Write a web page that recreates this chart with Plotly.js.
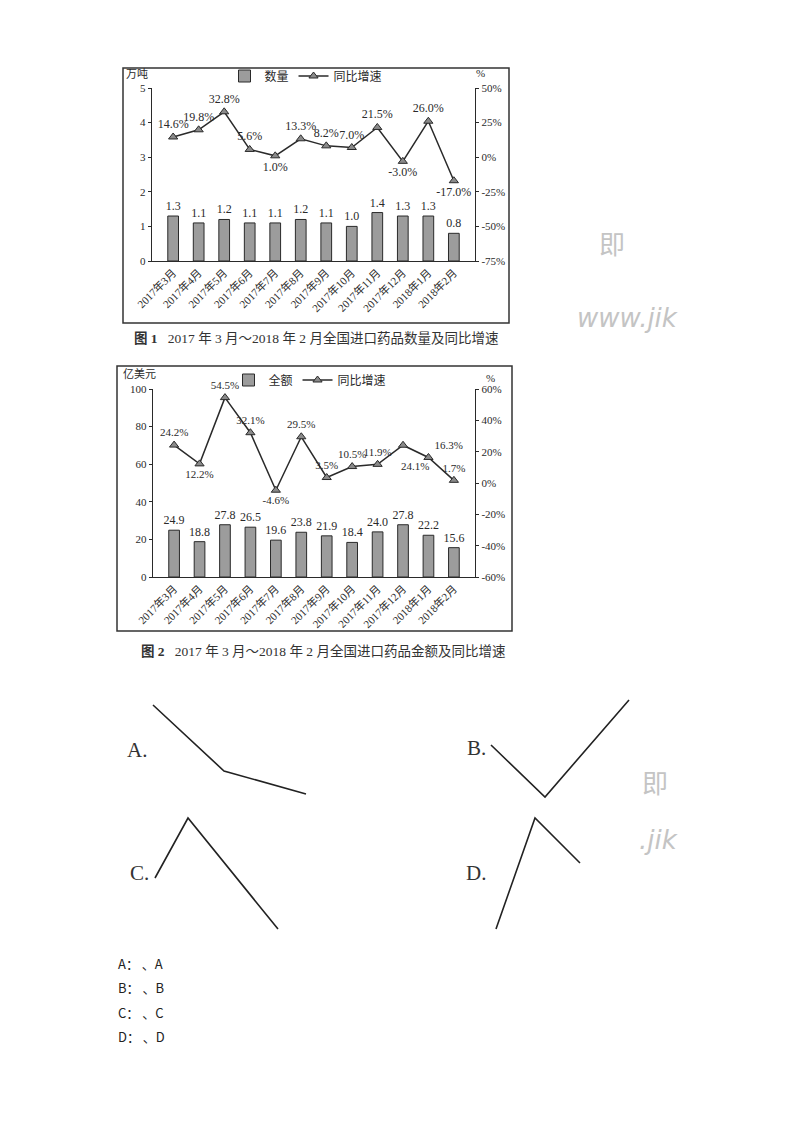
<!DOCTYPE html>
<html>
<head>
<meta charset="utf-8">
<script src="https://cdn.plot.ly/plotly-3.0.1.min.js"></script>
<style>html,body{margin:0;padding:0;background:#fff;}#chart{width:800px;height:1132px;}</style>
</head>
<body>
<div id="chart"></div>
<script>
// ---- data ----
var months = ['2017年3月','2017年4月','2017年5月','2017年6月','2017年7月','2017年8月','2017年9月','2017年10月','2017年11月','2017年12月','2018年1月','2018年2月'];
var qty = [1.3, 1.1, 1.2, 1.1, 1.1, 1.2, 1.1, 1.0, 1.4, 1.3, 1.3, 0.8];
var qtyGrowth = [14.6, 19.8, 32.8, 5.6, 1.0, 13.3, 8.2, 7.0, 21.5, -3.0, 26.0, -17.0];
var amount = [24.9, 18.8, 27.8, 26.5, 19.6, 23.8, 21.9, 18.4, 24.0, 27.8, 22.2, 15.6];
var amountGrowth = [24.2, 12.2, 54.5, 32.1, -4.6, 29.5, 3.5, 10.5, 11.9, 24.1, 16.3, 1.7];
var qtyTicks = [0, 1, 2, 3, 4, 5];
var qtyGrowthTicks = [-75, -50, -25, 0, 25, 50];
var amtTicks = [0, 20, 40, 60, 80, 100];
var amtGrowthTicks = [-60, -40, -20, 0, 20, 40, 60];
// answer option sketches (schematic polylines)
var optA_x = [153, 224, 306], optA_y = [705, 771, 794];
var optB_x = [491, 545, 629], optB_y = [745, 797, 700];
var optC_x = [155, 188, 278], optC_y = [878, 818, 929];
var optD_x = [496, 535, 580], optD_y = [929, 818, 863];
var optLabels = ['A.', 'B.', 'C.', 'D.'];
var answerLines = ['A： 、A', 'B： 、B', 'C： 、C', 'D： 、D'];

// ---- helpers ----
var W = 800, H = 1132;
function px(x){ return x / W; }
function py(y){ return 1 - y / H; }
var SERIF = 'Liberation Serif, "Noto Sans CJK SC", serif';
var INK = '#2a2a2a';
var BARFILL = '#9c9c9c';

var qtyPos = ['top center','top center','top center','top center','bottom center','top center','top center','top center','top center','bottom center','top center','bottom center'];
var amtPos = ['top center','bottom center','top center','top center','bottom center','top center','top center','top center','top center','bottom center','top right','top center'];
var AMT_OFFSET_IDX = 9; // label drawn lower-right of its point (as in the source)

function pct(arr){ return arr.map(function(v){ return v.toFixed(1) + '%'; }); }
function pctLabels(arr){ return arr.map(function(v){ return v + '%'; }); }
var amtText = pct(amountGrowth).map(function(t, i){ return i === AMT_OFFSET_IDX ? '' : t; });

var traces = [
  {type:'bar', x: months, y: qty, xaxis:'x', yaxis:'y', name:'数量', legend:'legend',
   marker:{color:BARFILL, line:{color:INK, width:1}},
   text: qty.map(function(v){return v.toFixed(1);}), textposition:'outside', cliponaxis:false, constraintext:'none',
   textfont:{family:SERIF, size:12, color:INK}},
  {type:'scatter', mode:'lines+markers+text', x: months, y: qtyGrowth, xaxis:'x', yaxis:'y2', name:'同比增速', legend:'legend',
   line:{color:INK, width:1.5}, marker:{symbol:'triangle-up', size:8, color:'#8a8a8a', line:{color:INK, width:1}},
   text: pct(qtyGrowth), textposition: qtyPos, cliponaxis:false,
   textfont:{family:SERIF, size:12, color:INK}},
  {type:'bar', x: months, y: amount, xaxis:'x2', yaxis:'y3', name:'全额', legend:'legend2',
   marker:{color:BARFILL, line:{color:INK, width:1}},
   text: amount.map(function(v){return v.toFixed(1);}), textposition:'outside', cliponaxis:false, constraintext:'none',
   textfont:{family:SERIF, size:12, color:INK}},
  {type:'scatter', mode:'lines+markers+text', x: months, y: amountGrowth, xaxis:'x2', yaxis:'y4', name:'同比增速', legend:'legend2',
   line:{color:INK, width:1.5}, marker:{symbol:'triangle-up', size:8, color:'#8a8a8a', line:{color:INK, width:1}},
   text: amtText, textposition: amtPos, cliponaxis:false,
   textfont:{family:SERIF, size:11, color:INK}}
];

var opts = [[optA_x, optA_y],[optB_x, optB_y],[optC_x, optC_y],[optD_x, optD_y]];
opts.forEach(function(o){
  traces.push({type:'scatter', mode:'lines', x:o[0], y:o[1], xaxis:'x3', yaxis:'y5', showlegend:false,
    line:{color:'#222', width:1.6}, hoverinfo:'skip'});
});

var xcat = {type:'category', showline:true, linecolor:INK, linewidth:1.2, ticks:'', showgrid:false, zeroline:false,
  tickangle:-45, tickfont:{family:SERIF, size:11, color:INK}, fixedrange:true};
function yax(extra){
  var base = {showline:true, linecolor:INK, linewidth:1.2, ticks:'outside', ticklen:3, tickcolor:INK, showgrid:false, zeroline:false,
    tickfont:{family:SERIF, size:11, color:INK}, fixedrange:true, tickmode:'array'};
  for (var k in extra) base[k] = extra[k];
  return base;
}
function ann(text, x, y, size, extra){
  var a = {text:text, xref:'paper', yref:'paper', x:px(x), y:py(y), xanchor:'center', yanchor:'middle', showarrow:false,
    font:{family:SERIF, size:size, color:INK}};
  for (var k in extra) a[k] = extra[k];
  return a;
}

var layout = {
  width: W, height: H, margin:{l:0,r:0,t:0,b:0}, paper_bgcolor:'#fff', plot_bgcolor:'rgba(0,0,0,0)',
  font:{family:SERIF, color:INK}, bargap:0.58, showlegend:true,
  xaxis: Object.assign({}, xcat, {domain:[px(152), px(475)], anchor:'y'}),
  yaxis: yax({domain:[py(261), py(88)], range:[0,5], tickvals:qtyTicks, ticktext:qtyTicks.map(String), anchor:'x'}),
  yaxis2: yax({overlaying:'y', side:'right', range:[-75,50], tickvals:qtyGrowthTicks, ticktext:pctLabels(qtyGrowthTicks), anchor:'x'}),
  xaxis2: Object.assign({}, xcat, {domain:[px(153), px(475)], anchor:'y3'}),
  yaxis3: yax({domain:[py(577), py(389)], range:[0,100], tickvals:amtTicks, ticktext:amtTicks.map(String), anchor:'x2'}),
  yaxis4: yax({overlaying:'y3', side:'right', range:[-60,60], tickvals:amtGrowthTicks, ticktext:pctLabels(amtGrowthTicks), anchor:'x2'}),
  xaxis3: {domain:[0,1], range:[0,W], visible:false, fixedrange:true, anchor:'y5'},
  yaxis5: {domain:[py(940), py(690)], range:[940,690], visible:false, fixedrange:true, anchor:'x3'},
  legend: {orientation:'h', x:px(306), y:py(76), xanchor:'center', yanchor:'middle', font:{family:SERIF, size:12, color:INK},
    bgcolor:'rgba(0,0,0,0)', itemwidth:30, tracegroupgap:0},
  legend2: {orientation:'h', x:px(310), y:py(380), xanchor:'center', yanchor:'middle', font:{family:SERIF, size:12, color:INK},
    bgcolor:'rgba(0,0,0,0)', itemwidth:30, tracegroupgap:0},
  shapes: [
    {type:'rect', xref:'paper', yref:'paper', x0:px(123), x1:px(509), y0:py(323), y1:py(68), line:{color:'#333', width:1.5}},
    {type:'rect', xref:'paper', yref:'paper', x0:px(117), x1:px(512), y0:py(631), y1:py(366), line:{color:'#333', width:1.5}}
  ],
  annotations: [
    {text: pct(amountGrowth)[AMT_OFFSET_IDX], xref:'x2', yref:'y4', x: months[AMT_OFFSET_IDX], y: amountGrowth[AMT_OFFSET_IDX],
      xanchor:'center', yanchor:'middle', xshift:12, yshift:-21, showarrow:false, font:{family:SERIF, size:11, color:INK}},
    ann('万吨', 137, 74, 11),
    ann('%', 481, 73, 11),
    ann('亿美元', 139, 374, 11),
    ann('%', 490, 378, 11),
    ann('<b>图 1</b>   2017 年 3 月～2018 年 2 月全国进口药品数量及同比增速', 316, 338, 13.5, {font:{family:SERIF, size:13.5, color:'#333'}}),
    ann('<b>图 2</b>   2017 年 3 月～2018 年 2 月全国进口药品金额及同比增速', 323, 651, 13.5, {font:{family:SERIF, size:13.5, color:'#333'}}),
    ann(optLabels[0], 137, 750, 21, {font:{family:SERIF, size:21, color:'#333'}}),
    ann(optLabels[1], 476, 748, 21, {font:{family:SERIF, size:21, color:'#333'}}),
    ann(optLabels[2], 139, 873, 21, {font:{family:SERIF, size:21, color:'#333'}}),
    ann(optLabels[3], 476, 873, 21, {font:{family:SERIF, size:21, color:'#333'}}),
    ann('即', 612, 243, 26, {font:{family:'"Noto Sans CJK SC"', size:26, color:'#c4c4c4'}}),
    ann('<i>www.jik</i>', 575, 318, 26, {xanchor:'left', font:{family:'DejaVu Sans', size:26, color:'#c4c4c4'}}),
    ann('即', 655, 781, 26, {font:{family:'"Noto Sans CJK SC"', size:26, color:'#c4c4c4'}}),
    ann('<i>.jik</i>', 637, 840, 26, {xanchor:'left', font:{family:'DejaVu Sans', size:26, color:'#c4c4c4'}})
  ]
};
answerLines.forEach(function(t, i){
  layout.annotations.push(ann(t, 116, 963 + i*24.5, 13, {xanchor:'left',
    font:{family:'"Noto Sans CJK SC", "Noto Sans", sans-serif', size:13, color:'#222'}}));
});

Plotly.newPlot('chart', traces, layout, {displayModeBar:false, staticPlot:true});
</script>
</body>
</html>
